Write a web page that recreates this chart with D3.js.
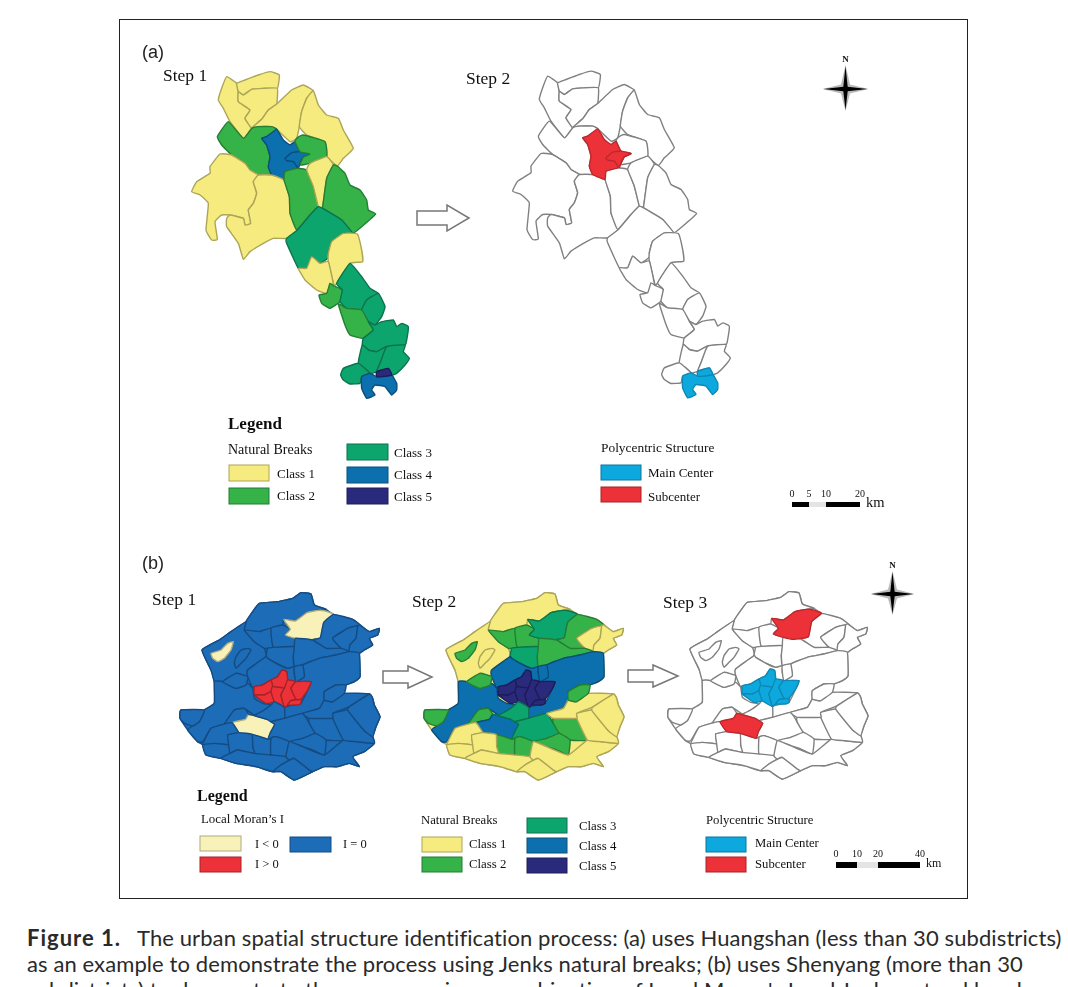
<!DOCTYPE html>
<html>
<head>
<meta charset="utf-8">
<script src="https://cdn.jsdelivr.net/npm/d3@7"></script>
<style>
    html, body { margin: 0; padding: 0; background: #fff; overflow: hidden; }
    svg { display: block; }
    .serif { font-family: "Liberation Serif", serif; fill: #111; }
    .sans { font-family: "Liberation Sans", sans-serif; fill: #222; }
    .caption { font-family: "Lato", sans-serif; fill: #2a2a2a; font-size: 22px; letter-spacing: 0.1px; }
</style>
</head>
<body>
<div id="chart"></div>
<script>
// Huangshan subdistrict outlines (map units)
const huangshanShapes = [
    [[290,140],[320,160],[325,185],[325,215],[360,240],[345,265],[365,295],[340,325],[300,275],[280,235],[265,210],[275,175]],
    [[320,160],[345,150],[385,135],[420,125],[448,135],[442,175],[400,175],[365,178],[340,195],[325,185]],
    [[340,195],[365,178],[400,175],[442,175],[440,222],[415,240],[395,268],[375,285],[365,295],[345,265],[360,240],[325,215],[325,185]],
    [[440,222],[485,180],[520,165],[550,182],[530,205],[515,245],[508,290],[500,325],[480,335],[440,298],[425,290],[385,290],[365,295],[375,285],[395,268],[415,240]],
    [[550,182],[565,225],[590,255],[625,265],[640,300],[670,355],[640,385],[622,408],[590,380],[585,335],[530,315],[508,290],[515,245],[530,205]],
    [[295,275],[340,325],[365,295],[385,290],[425,290],[440,298],[410,320],[395,325],[410,345],[420,380],[415,410],[425,435],[385,435],[360,420],[345,400],[305,375],[275,345],[262,320]],
    [[440,298],[460,330],[480,345],[495,335],[510,365],[540,372],[520,382],[510,400],[500,415],[465,425],[462,450],[425,435],[415,410],[420,380],[410,345],[395,325],[410,320]],
    [[465,385],[485,368],[510,365],[540,372],[520,382],[510,400],[505,415],[490,395],[470,392]],
    [[500,325],[520,315],[585,335],[590,380],[540,400],[510,405],[520,382],[540,372],[510,365],[495,335]],
    [[270,372],[305,375],[345,400],[360,420],[385,435],[370,455],[380,490],[370,520],[355,540],[362,580],[345,585],[340,565],[300,555],[275,555],[255,575],[262,628],[245,630],[228,600],[235,520],[210,495],[185,485],[200,455],[240,430],[240,410]],
    [[385,435],[425,435],[462,450],[478,500],[480,550],[502,600],[470,625],[430,625],[400,640],[360,665],[340,688],[325,640],[290,590],[290,565],[300,555],[340,565],[345,585],[362,580],[355,540],[370,520],[380,490],[370,455]],
    [[465,425],[500,415],[530,420],[550,470],[565,530],[540,555],[500,600],[480,550],[478,500],[462,450]],
    [[530,420],[540,400],[590,380],[610,405],[590,445],[578,530],[565,530],[550,470]],
    [[622,408],[645,430],[660,465],[690,480],[710,510],[715,540],[737,552],[695,590],[668,610],[635,570],[578,535],[578,530],[590,445],[610,405]],
    [[565,530],[578,535],[635,570],[668,610],[640,610],[605,635],[595,670],[600,680],[570,700],[545,680],[530,715],[505,715],[470,640],[470,625],[502,600],[540,555]],
    [[640,610],[682,612],[695,660],[698,695],[660,700],[620,760],[612,765],[595,695],[595,670],[605,635]],
    [[505,715],[530,715],[545,680],[570,700],[595,695],[610,765],[590,790],[560,780],[525,750]],
    [[600,760],[612,768],[637,780],[630,815],[600,835],[575,820],[567,795],[590,790]],
    [[660,700],[695,740],[720,775],[745,790],[710,810],[695,840],[650,835],[630,815],[637,780],[620,760]],
    [[745,790],[765,830],[755,860],[735,885],[715,875],[695,840],[710,810]],
    [[625,822],[650,835],[695,840],[715,875],[730,900],[700,925],[660,915],[645,885]],
    [[735,885],[755,875],[790,870],[800,890],[815,880],[835,890],[830,930],[825,945],[770,950],[740,965],[715,960],[697,945],[700,925],[730,900],[715,875]],
    [[697,945],[715,960],[740,965],[770,950],[750,1000],[740,1025],[720,1030],[685,1000]],
    [[770,950],[825,945],[820,965],[838,985],[825,1005],[800,1030],[785,1035],[775,1015],[740,1025],[750,1000]],
    [[640,1015],[685,1000],[720,1030],[695,1040],[690,1060],[660,1062],[640,1050],[632,1035]],
    [[720,1030],[740,1040],[755,1040],[785,1035],[800,1060],[800,1080],[785,1095],[765,1070],[735,1065],[725,1080],[735,1095],[710,1105],[695,1075],[695,1040]],
    [[740,1025],[775,1015],[785,1035],[755,1040],[740,1040]]
]
const huangshanBreaks = [1,1,1,1,1,2,4,4,2,1,1,2,1,2,3,1,1,2,3,3,2,3,3,3,3,4,5]
const huangshanStructure = ["","","","","","","Subcenter","Subcenter","","","","","","","","","","","","","","","","","","Main Center","Main Center"]

// Shenyang outer edge and subdistricts
const shenyangOutline = [[435,68],[465,72],[475,105],[510,118],[535,135],[590,148],[612,165],[640,185],[670,175],[665,195],[640,205],[650,225],[625,240],[610,250],[612,320],[595,335],[570,345],[565,370],[640,372],[650,385],[655,405],[672,440],[660,470],[650,500],[655,520],[625,545],[590,560],[610,590],[580,580],[545,590],[505,590],[470,605],[415,630],[375,605],[350,605],[300,590],[240,580],[195,565],[150,555],[140,525],[125,515],[95,480],[72,445],[75,420],[145,420],[175,400],[175,335],[165,300],[138,240],[190,210],[225,185],[270,155],[290,125],[310,100],[365,95],[410,85]]
const shenyangShapes = [
    [[270,155],[290,125],[310,100],[365,95],[410,85],[435,68],[465,72],[475,105],[510,118],[488,121],[453,128],[418,153],[383,148],[380,165],[345,175],[310,185],[265,180]],
    [[138,240],[190,210],[225,185],[270,155],[265,180],[295,215],[325,235],[330,260],[275,300],[275,320],[240,310],[200,335],[175,335],[165,300]],
    [[165,250],[195,240],[215,220],[232,215],[225,240],[205,265],[185,275],[170,265]],
    [[240,260],[255,240],[275,235],[285,240],[270,265],[255,280],[240,295],[235,280]],
    [[265,180],[310,185],[345,175],[352,232],[335,235],[325,235],[295,215]],
    [[345,175],[380,165],[403,178],[388,195],[418,205],[415,230],[352,232]],
    [[383,148],[418,153],[453,128],[488,121],[508,123],[533,133],[503,158],[493,203],[448,211],[418,205],[388,195],[403,178]],
    [[533,133],[590,148],[612,165],[575,175],[530,205],[555,235],[510,235],[470,210],[493,203],[503,158]],
    [[530,205],[575,175],[605,168],[600,205],[582,225],[580,245],[555,235]],
    [[605,168],[612,165],[640,185],[670,175],[665,195],[640,205],[650,225],[625,240],[610,250],[580,245],[582,225],[600,205]],
    [[335,235],[352,232],[415,230],[412,260],[415,290],[395,295],[370,285],[335,265],[330,260]],
    [[415,230],[418,205],[470,210],[510,235],[555,235],[580,245],[540,255],[490,265],[440,285],[415,290],[412,260]],
    [[275,300],[330,260],[335,265],[370,285],[395,295],[415,290],[415,310],[420,335],[395,330],[392,305],[378,300],[365,320],[345,330],[320,345],[295,350],[290,355],[275,320]],
    [[175,335],[200,335],[240,355],[275,340],[290,355],[295,385],[320,400],[345,405],[325,420],[295,435],[265,415],[235,420],[205,462],[165,475],[140,515],[125,515],[95,480],[110,468],[130,455],[145,420],[175,400]],
    [[200,335],[240,310],[275,320],[270,345],[240,355]],
    [[440,285],[490,265],[540,255],[580,245],[610,250],[612,320],[595,335],[570,345],[540,345],[505,365],[505,390],[490,415],[440,430],[385,445],[385,412],[410,405],[435,400],[455,360],[465,335],[420,335],[445,320]],
    [[415,290],[440,285],[445,320],[420,335],[415,310]],
    [[365,320],[378,300],[392,305],[395,330],[385,355],[350,350],[345,330]],
    [[295,350],[320,345],[345,330],[350,350],[345,365],[325,375],[295,375]],
    [[295,375],[325,375],[345,365],[355,395],[330,400]],
    [[345,365],[350,350],[385,355],[375,375],[385,412],[355,395]],
    [[385,355],[395,330],[420,335],[405,355],[420,388],[405,392],[395,405],[385,412],[375,375]],
    [[420,335],[465,335],[455,360],[435,388],[420,388],[405,355]],
    [[395,405],[405,392],[435,388],[435,400],[425,405]],
    [[75,420],[145,420],[130,455],[110,468],[85,460],[72,445]],
    [[235,420],[265,415],[278,433],[268,448],[228,458],[205,462]],
    [[228,458],[268,448],[278,433],[298,438],[333,448],[356,463],[343,488],[336,508],[288,493],[248,488]],
    [[278,433],[295,435],[325,420],[345,405],[355,395],[385,412],[385,445],[345,455],[333,448],[298,438]],
    [[345,455],[385,445],[440,430],[460,460],[478,490],[440,505],[400,515],[360,500],[336,508],[343,488],[356,463]],
    [[460,445],[530,445],[562,510],[510,510],[478,490],[460,460]],
    [[400,515],[440,505],[478,490],[510,510],[505,555],[470,540],[440,530]],
    [[288,493],[336,508],[345,505],[345,555],[295,550],[290,530]],
    [[345,505],[360,500],[400,515],[390,560],[345,555]],
    [[140,525],[165,475],[205,462],[228,458],[248,488],[215,495],[218,525],[175,520]],
    [[140,525],[175,520],[218,525],[222,550],[195,565],[150,555]],
    [[215,495],[248,488],[288,493],[290,530],[295,550],[245,540],[222,550],[218,525]],
    [[195,565],[222,550],[245,540],[295,550],[345,555],[390,560],[400,570],[375,585],[350,605],[300,590],[240,580]],
    [[350,605],[375,585],[415,565],[460,600],[470,605],[415,630],[375,605]],
    [[390,560],[400,515],[440,530],[505,555],[562,510],[600,515],[655,520],[625,545],[590,560],[610,590],[580,580],[545,590],[505,590],[470,605],[460,600],[415,565],[400,570]],
    [[530,445],[530,430],[575,420],[590,440],[625,482],[650,500],[655,520],[600,515],[562,510]],
    [[490,415],[505,390],[530,395],[565,370],[640,372],[580,410],[530,430],[530,445],[460,445],[440,430]],
    [[505,365],[540,345],[570,345],[565,370],[530,395],[505,390]],
    [[580,410],[640,372],[650,385],[655,405],[672,440],[660,470],[650,500],[625,482],[590,440],[575,420]]
]
const shenyangBreaks = [1,1,2,1,2,2,3,2,1,1,3,2,4,4,2,4,4,5,5,5,5,5,5,5,2,2,4,3,3,2,2,2,2,1,1,1,1,1,1,1,1,2,1]
const shenyangMoran = ["I=0","I=0","I<0","I=0","I=0","I=0","I<0","I=0","I=0","I=0","I=0","I=0","I=0","I=0","I=0","I=0","I=0","I>0","I>0","I>0","I>0","I>0","I>0","I>0","I=0","I=0","I<0","I=0","I=0","I=0","I=0","I=0","I=0","I=0","I=0","I=0","I=0","I=0","I=0","I=0","I=0","I=0","I=0"]
const shenyangStructure = ["","","","","","","Subcenter","","","","","","","","","","","Main Center","Main Center","Main Center","Main Center","Main Center","Main Center","Main Center","","","Subcenter","","","","","","","","","","","","","","","",""]

// legend labels and scale bars
const breakClasses = ["Class 1", "Class 2", "Class 3", "Class 4", "Class 5"]
const breakColors = ["#F6EB7E", "#35B34A", "#0BA56E", "#0A6FAE", "#2C2A7C"]
const structureLabels = ["Main Center", "Subcenter"]
const structureColors = ["#10A9DE", "#EC3237"]
const moranLabels = ["I<0", "I=0", "I>0"]
const moranColors = ["#F9F2B8", "#1C6CB8", "#EC3237"]
const scaleTicksA = [0, 5, 10, 20]
const scaleTicksB = [0, 10, 20, 40]

const captionLines = [
    "The urban spatial structure identification process: (a) uses Huangshan (less than 30 subdistricts)",
    "as an example to demonstrate the process using Jenks natural breaks; (b) uses Shenyang (more than 30",
    "subdistricts) to demonstrate the process using a combination of Local Moran's I and Jenks natural breaks."
]

const breakColor = d3.scaleOrdinal().domain([1, 2, 3, 4, 5]).range(breakColors)
const structureColor = d3.scaleOrdinal().domain(structureLabels).range(structureColors).unknown("#fff")
const moranColor = d3.scaleOrdinal().domain(moranLabels).range(moranColors)

const svg = d3.select("#chart")
    .append("svg")
        .attr("width", 1068)
        .attr("height", 987)

// the source is a soft scan, so everything gets a small blur
svg.append("defs").append("filter")
    .attr("id", "soft")
    .attr("filterUnits", "userSpaceOnUse")
    .attr("x", 0).attr("y", 0)
    .attr("width", 1068).attr("height", 987)
    .append("feGaussianBlur").attr("stdDeviation", 0.45)

const page = svg.append("g").attr("filter", "url(#soft)")

page.append("rect")
    .attr("x", 119.5).attr("y", 19.5)
    .attr("width", 848).attr("height", 879)
    .attr("fill", "#fff")
    .attr("stroke", "#222")
    .attr("stroke-width", 1)

function drawMap(shapes, fills, xRange, yRange, xDomain, yDomain, outline, base, lined) {
    const x = d3.scaleLinear().domain(xDomain).range(xRange)
    const y = d3.scaleLinear().domain(yDomain).range(yRange)
    const path = d3.line().x(d => x(d[0])).y(d => y(d[1])).curve(d3.curveCardinalClosed.tension(0.65))
    const g = page.append("g")
    if (outline) {
        g.append("path").attr("d", path(outline)).attr("fill", base)
            .attr("stroke", lined ? "#808080" : d3.color(base).darker(1))
            .attr("stroke-width", 1.4)
    }
    // white cells first so the coloured ones sit on top in the outline panels
    const order = d3.range(shapes.length).sort((a, b) => (fills[a] === "#fff" ? 0 : 1) - (fills[b] === "#fff" ? 0 : 1))
    g.selectAll("path.cell")
        .data(order)
        .join("path")
            .attr("class", "cell")
            .attr("d", i => path(shapes[i]))
            .attr("fill", i => fills[i])
            .attr("stroke", i => fills[i] === "#fff" ? "#808080" : d3.color(fills[i]).darker(lined ? 0.6 : 1))
            .attr("stroke-width", 1.4)
            .attr("stroke-linejoin", "round")
}

// panel (a)
drawMap(huangshanShapes, huangshanBreaks.map(breakColor), [130, 430], [30, 410], [0, 900], [0, 1140])
drawMap(huangshanShapes, huangshanStructure.map(structureColor), [451, 751], [29.5, 409.5], [0, 900], [0, 1140], null, null, true)

// panel (b)
drawMap(shenyangShapes, shenyangMoran.map(moranColor), [156, 356], [570, 790], [0, 600], [0, 660], shenyangOutline, "#1C6CB8")
drawMap(shenyangShapes, shenyangBreaks.map(breakColor), [400, 600], [570, 790], [0, 600], [0, 660], shenyangOutline, "#F6EB7E")
drawMap(shenyangShapes, shenyangStructure.map(structureColor), [644, 844], [569, 789], [0, 600], [0, 660], shenyangOutline, "#fff", true)

function label(txt, x, y, size, cls, weight) {
    page.append("text")
        .attr("class", cls || "serif")
        .attr("x", x)
        .attr("y", y)
        .attr("font-size", size)
        .attr("font-weight", weight || "normal")
        .text(txt)
}

function arrow(x0, x1, cy, shaft, head, neck) {
    const pts = [[x0, cy - shaft], [neck, cy - shaft], [neck, cy - head], [x1, cy], [neck, cy + head], [neck, cy + shaft], [x0, cy + shaft]]
    page.append("polygon")
        .attr("points", pts.join(" "))
        .attr("fill", "#fff")
        .attr("stroke", "#777")
        .attr("stroke-width", 1.5)
}

function swatch(x, y, w, h, color) {
    page.append("rect")
        .attr("x", x).attr("y", y)
        .attr("width", w).attr("height", h)
        .attr("fill", color)
        .attr("stroke", d3.color(color).darker(1))
        .attr("stroke-width", 1)
}

function star(cx, cy, arm, waist, color) {
    const north = cy - arm - 1, south = cy + arm - 1
    page.append("polygon")
        .attr("points", [[cx, north], [cx + waist, cy - waist], [cx + arm, cy], [cx + waist, cy + waist], [cx, south], [cx - waist, cy + waist], [cx - arm, cy], [cx - waist, cy - waist]].join(" "))
        .attr("fill", color)
}

function compass(cx, cy, arm, nY) {
    star(cx, cy, arm + 1, 4.5, "#bbb")
    star(cx, cy, arm, 2.2, "#000")
    page.append("text")
        .attr("class", "serif")
        .attr("x", cx)
        .attr("y", nY)
        .attr("text-anchor", "middle")
        .attr("font-size", 9)
        .attr("font-weight", "bold")
        .text("N")
}

function scaleBar(ticks, x0, x1, barY, barH, labelY, kmX, kmY, kmSize) {
    const x = d3.scaleLinear().domain([ticks[0], ticks[3]]).range([x0, x1])
    d3.pairs(ticks).forEach((p, i) => {
        page.append("rect")
            .attr("x", x(p[0])).attr("y", barY)
            .attr("width", x(p[1]) - x(p[0])).attr("height", barH)
            .attr("fill", i === 1 ? "#e4e4e4" : "#000")
    })
    ticks.forEach(t => {
        page.append("text")
            .attr("class", "serif")
            .attr("x", x(t))
            .attr("y", labelY)
            .attr("text-anchor", "middle")
            .attr("font-size", 10)
            .text(t)
    })
    label("km", kmX, kmY, kmSize)
}

// panel (a) text and furniture
label("(a)", 142, 58, 18, "sans")
label("Step 1", 163, 81, 17.5)
label("Step 2", 466, 84, 17.5)
arrow(417, 469, 218, 7, 13, 447)
compass(845.5, 89, 22, 62)

label("Legend", 228, 429, 17, "serif", "bold")
label("Natural Breaks", 228, 454, 14)
swatch(229, 465, 40, 16, breakColors[0]); label(breakClasses[0], 277, 478, 13)
swatch(229, 488, 40, 16, breakColors[1]); label(breakClasses[1], 277, 500, 13)
swatch(347, 444, 41, 16, breakColors[2]); label(breakClasses[2], 394, 457, 13)
swatch(347, 467, 41, 16, breakColors[3]); label(breakClasses[3], 394, 479, 13)
swatch(347, 488, 41, 16, breakColors[4]); label(breakClasses[4], 394, 501, 13)
label("Polycentric Structure", 601, 452, 13.4)
swatch(601, 465, 40, 15, structureColors[0]); label(structureLabels[0], 648, 477, 13)
swatch(601, 487, 40, 15, structureColors[1]); label(structureLabels[1], 648, 501, 13)
scaleBar(scaleTicksA, 792, 860, 502, 5, 497, 866, 507, 14.5)

// panel (b) text and furniture
label("(b)", 142, 569, 18, "sans")
label("Step 1", 152, 605, 17.5)
label("Step 2", 412, 607, 17.5)
label("Step 3", 663, 608, 17.5)
arrow(383, 432, 677, 6, 11, 408)
arrow(628, 678, 676, 6, 11, 653)
compass(892.5, 594, 21, 568)

label("Legend", 197, 801, 16, "serif", "bold")
label("Local Moran\u2019s I", 201, 823, 12.9)
swatch(200, 836, 41, 15, moranColors[0]); label("I < 0", 255, 848, 12.5)
swatch(290, 837, 41, 15, moranColors[1]); label("I = 0", 343, 848, 12.5)
swatch(200, 857, 41, 15, moranColors[2]); label("I > 0", 255, 868, 12.5)
label("Natural Breaks", 421, 824, 12.7)
swatch(422, 837, 40, 15, breakColors[0]); label(breakClasses[0], 469, 848, 12.8)
swatch(422, 857, 40, 15, breakColors[1]); label(breakClasses[1], 469, 868, 12.8)
swatch(527, 818, 40, 15, breakColors[2]); label(breakClasses[2], 579, 830, 12.8)
swatch(527, 838, 40, 15, breakColors[3]); label(breakClasses[3], 579, 850, 12.8)
swatch(527, 858, 40, 15, breakColors[4]); label(breakClasses[4], 579, 870, 12.8)
label("Polycentric Structure", 706, 824, 12.7)
swatch(706, 837, 40, 15, structureColors[0]); label(structureLabels[0], 755, 847, 12.7)
swatch(706, 857, 40, 15, structureColors[1]); label(structureLabels[1], 755, 868, 12.7)
scaleBar(scaleTicksB, 836, 920, 862, 6, 857, 926, 867, 12)

// caption
const caption = svg.append("g").attr("class", "caption")
caption.append("text").attr("x", 27).attr("y", 946).attr("font-weight", "bold").style("letter-spacing", "1px").text("Figure 1.")
caption.selectAll("text.line")
    .data(captionLines)
    .join("text")
        .attr("class", "line")
        .attr("x", (d, i) => i === 0 ? 137 : 27)
        .attr("y", (d, i) => 946 + i * 26)
        .text(d => d)
</script>
</body>
</html>
